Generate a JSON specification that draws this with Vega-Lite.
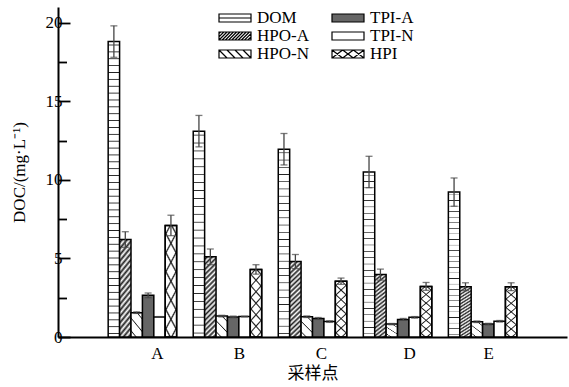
{
  "$schema": "https://vega.github.io/schema/vega-lite/v6.json",
  "width": 509,
  "height": 330,
  "autosize": {"type": "none"},
  "padding": {"left": 58, "top": 7, "right": 2, "bottom": 50},
  "background": "white",
  "config": {
    "view": {"stroke": null},
    "font": "Liberation Serif",
    "axis": {"labelColor": "#000", "titleColor": "#000", "domainColor": "#000", "tickColor": "#000", "grid": false, "labelFont": "Liberation Serif", "titleFont": "Liberation Serif, Noto Sans CJK SC", "labelFontSize": 17, "titleFontSize": 17, "titleFontWeight": "normal"},
    "legend": {"title": null, "orient": "none", "legendX": 168, "legendY": 2, "columns": 2, "symbolSize": 256, "symbolStrokeColor": "#000", "symbolStrokeWidth": 1.2, "symbolOpacity": 1, "labelFont": "Liberation Serif", "labelFontSize": 17, "labelColor": "#000", "labelOffset": 13, "rowPadding": 1, "columnPadding": 20, "padding": 0}
  },
  "data": {"values": [
    {"site": "A", "type": "DOM", "value": 18.8, "lo": 17.8, "hi": 19.8},
    {"site": "A", "type": "HPO-A", "value": 6.2, "lo": 5.7, "hi": 6.7},
    {"site": "A", "type": "HPO-N", "value": 1.55, "lo": 1.5, "hi": 1.6},
    {"site": "A", "type": "TPI-A", "value": 2.65, "lo": 2.5, "hi": 2.8},
    {"site": "A", "type": "TPI-N", "value": 1.28, "lo": 1.26, "hi": 1.3},
    {"site": "A", "type": "HPI", "value": 7.1, "lo": 6.45, "hi": 7.75},
    {"site": "B", "type": "DOM", "value": 13.1, "lo": 12.1, "hi": 14.1},
    {"site": "B", "type": "HPO-A", "value": 5.1, "lo": 4.6, "hi": 5.6},
    {"site": "B", "type": "HPO-N", "value": 1.33, "lo": 1.28, "hi": 1.38},
    {"site": "B", "type": "TPI-A", "value": 1.28, "lo": 1.23, "hi": 1.33},
    {"site": "B", "type": "TPI-N", "value": 1.3, "lo": 1.28, "hi": 1.32},
    {"site": "B", "type": "HPI", "value": 4.3, "lo": 4.0, "hi": 4.6},
    {"site": "C", "type": "DOM", "value": 11.95, "lo": 10.95, "hi": 12.95},
    {"site": "C", "type": "HPO-A", "value": 4.8, "lo": 4.35, "hi": 5.25},
    {"site": "C", "type": "HPO-N", "value": 1.29, "lo": 1.24, "hi": 1.34},
    {"site": "C", "type": "TPI-A", "value": 1.18, "lo": 1.12, "hi": 1.24},
    {"site": "C", "type": "TPI-N", "value": 0.98, "lo": 0.93, "hi": 1.03},
    {"site": "C", "type": "HPI", "value": 3.55, "lo": 3.35, "hi": 3.75},
    {"site": "D", "type": "DOM", "value": 10.5, "lo": 9.5, "hi": 11.5},
    {"site": "D", "type": "HPO-A", "value": 3.97, "lo": 3.62, "hi": 4.32},
    {"site": "D", "type": "HPO-N", "value": 0.82, "lo": 0.78, "hi": 0.86},
    {"site": "D", "type": "TPI-A", "value": 1.12, "lo": 1.06, "hi": 1.18},
    {"site": "D", "type": "TPI-N", "value": 1.25, "lo": 1.2, "hi": 1.3},
    {"site": "D", "type": "HPI", "value": 3.22, "lo": 2.97, "hi": 3.47},
    {"site": "E", "type": "DOM", "value": 9.22, "lo": 8.32, "hi": 10.12},
    {"site": "E", "type": "HPO-A", "value": 3.2, "lo": 2.95, "hi": 3.45},
    {"site": "E", "type": "HPO-N", "value": 0.97, "lo": 0.92, "hi": 1.02},
    {"site": "E", "type": "TPI-A", "value": 0.82, "lo": 0.77, "hi": 0.87},
    {"site": "E", "type": "TPI-N", "value": 1.0, "lo": 0.95, "hi": 1.05},
    {"site": "E", "type": "HPI", "value": 3.2, "lo": 2.95, "hi": 3.45}
  ]},
  "encoding": {
    "x": {
      "field": "site", "type": "nominal",
      "scale": {"paddingInner": 0.195, "paddingOuter": 0.59},
      "axis": {
        "title": "采样点", "ticks": false, "labelAngle": 0, "labelPadding": 8, "titlePadding": 4,
        "domainWidth": 2,
        "labelOffset": {"condition": [
          {"test": "datum.value === 'A'", "value": 15},
          {"test": "datum.value === 'B'", "value": 12},
          {"test": "datum.value === 'C'", "value": 9},
          {"test": "datum.value === 'E'", "value": 6}
        ], "value": 12}
      }
    },
    "xOffset": {"field": "type", "type": "nominal", "scale": {"domain": ["DOM", "HPO-A", "HPO-N", "TPI-A", "TPI-N", "HPI"], "paddingInner": 0, "paddingOuter": 0}}
  },
  "layer": [
    {
      "mark": {"type": "bar", "stroke": "#000", "strokeWidth": 1.5},
      "encoding": {
        "y": {
          "field": "value", "type": "quantitative",
          "scale": {"domain": [0, 21], "nice": false},
          "axis": {
            "title": "DOC/(mg·L⁻¹)",
            "values": [0, 2.5, 5, 7.5, 10, 12.5, 15, 17.5, 20],
            "labelExpr": "datum.value % 5 === 0 ? datum.label : ''",
            "tickSize": {"condition": {"test": "datum.value % 5 === 0", "value": -12}, "value": -8.5},
            "tickWidth": 1.8, "domainWidth": 2, "labelPadding": 8, "titlePadding": 17
          }
        },
        "fill": {
          "field": "type", "type": "nominal",
          "scale": {"domain": ["DOM", "HPO-A", "HPO-N", "TPI-A", "TPI-N", "HPI"], "range": ["#ffffff", "#ffffff", "#ffffff", "#666666", "#ffffff", "#ffffff"]},
          "condition": [
            {"test": "datum.type==='DOM' && datum.site==='A'", "value": {"gradient": "linear", "x1": 0, "y1": 0, "x2": 0, "y2": 1, "stops": [
              {"offset": 0.0086, "color": "#fff"}, {"offset": 0.0116, "color": "#222"}, {"offset": 0.0146, "color": "#fff"},
              {"offset": 0.0319, "color": "#fff"}, {"offset": 0.0349, "color": "#222"}, {"offset": 0.0379, "color": "#fff"},
              {"offset": 0.0551, "color": "#fff"}, {"offset": 0.0581, "color": "#222"}, {"offset": 0.0611, "color": "#fff"},
              {"offset": 0.0784, "color": "#fff"}, {"offset": 0.0814, "color": "#222"}, {"offset": 0.0844, "color": "#fff"},
              {"offset": 0.1017, "color": "#fff"}, {"offset": 0.1047, "color": "#222"}, {"offset": 0.1077, "color": "#fff"},
              {"offset": 0.1249, "color": "#fff"}, {"offset": 0.1279, "color": "#222"}, {"offset": 0.1309, "color": "#fff"},
              {"offset": 0.1482, "color": "#fff"}, {"offset": 0.1512, "color": "#222"}, {"offset": 0.1542, "color": "#fff"},
              {"offset": 0.1714, "color": "#fff"}, {"offset": 0.1744, "color": "#222"}, {"offset": 0.1774, "color": "#fff"},
              {"offset": 0.1947, "color": "#fff"}, {"offset": 0.1977, "color": "#222"}, {"offset": 0.2007, "color": "#fff"},
              {"offset": 0.2179, "color": "#fff"}, {"offset": 0.2209, "color": "#222"}, {"offset": 0.2239, "color": "#fff"},
              {"offset": 0.2412, "color": "#fff"}, {"offset": 0.2442, "color": "#222"}, {"offset": 0.2472, "color": "#fff"},
              {"offset": 0.2644, "color": "#fff"}, {"offset": 0.2674, "color": "#222"}, {"offset": 0.2704, "color": "#fff"},
              {"offset": 0.2877, "color": "#fff"}, {"offset": 0.2907, "color": "#222"}, {"offset": 0.2937, "color": "#fff"},
              {"offset": 0.3110, "color": "#fff"}, {"offset": 0.3140, "color": "#222"}, {"offset": 0.3170, "color": "#fff"},
              {"offset": 0.3342, "color": "#fff"}, {"offset": 0.3372, "color": "#222"}, {"offset": 0.3402, "color": "#fff"},
              {"offset": 0.3575, "color": "#fff"}, {"offset": 0.3605, "color": "#222"}, {"offset": 0.3635, "color": "#fff"},
              {"offset": 0.3807, "color": "#fff"}, {"offset": 0.3837, "color": "#222"}, {"offset": 0.3867, "color": "#fff"},
              {"offset": 0.4040, "color": "#fff"}, {"offset": 0.4070, "color": "#222"}, {"offset": 0.4100, "color": "#fff"},
              {"offset": 0.4272, "color": "#fff"}, {"offset": 0.4302, "color": "#222"}, {"offset": 0.4332, "color": "#fff"},
              {"offset": 0.4505, "color": "#fff"}, {"offset": 0.4535, "color": "#222"}, {"offset": 0.4565, "color": "#fff"},
              {"offset": 0.4737, "color": "#fff"}, {"offset": 0.4767, "color": "#222"}, {"offset": 0.4797, "color": "#fff"},
              {"offset": 0.4970, "color": "#fff"}, {"offset": 0.5000, "color": "#222"}, {"offset": 0.5030, "color": "#fff"},
              {"offset": 0.5203, "color": "#fff"}, {"offset": 0.5233, "color": "#222"}, {"offset": 0.5263, "color": "#fff"},
              {"offset": 0.5435, "color": "#fff"}, {"offset": 0.5465, "color": "#222"}, {"offset": 0.5495, "color": "#fff"},
              {"offset": 0.5668, "color": "#fff"}, {"offset": 0.5698, "color": "#222"}, {"offset": 0.5728, "color": "#fff"},
              {"offset": 0.5900, "color": "#fff"}, {"offset": 0.5930, "color": "#222"}, {"offset": 0.5960, "color": "#fff"},
              {"offset": 0.6133, "color": "#fff"}, {"offset": 0.6163, "color": "#222"}, {"offset": 0.6193, "color": "#fff"},
              {"offset": 0.6365, "color": "#fff"}, {"offset": 0.6395, "color": "#222"}, {"offset": 0.6425, "color": "#fff"},
              {"offset": 0.6598, "color": "#fff"}, {"offset": 0.6628, "color": "#222"}, {"offset": 0.6658, "color": "#fff"},
              {"offset": 0.6830, "color": "#fff"}, {"offset": 0.6860, "color": "#222"}, {"offset": 0.6890, "color": "#fff"},
              {"offset": 0.7063, "color": "#fff"}, {"offset": 0.7093, "color": "#222"}, {"offset": 0.7123, "color": "#fff"},
              {"offset": 0.7296, "color": "#fff"}, {"offset": 0.7326, "color": "#222"}, {"offset": 0.7356, "color": "#fff"},
              {"offset": 0.7528, "color": "#fff"}, {"offset": 0.7558, "color": "#222"}, {"offset": 0.7588, "color": "#fff"},
              {"offset": 0.7761, "color": "#fff"}, {"offset": 0.7791, "color": "#222"}, {"offset": 0.7821, "color": "#fff"},
              {"offset": 0.7993, "color": "#fff"}, {"offset": 0.8023, "color": "#222"}, {"offset": 0.8053, "color": "#fff"},
              {"offset": 0.8226, "color": "#fff"}, {"offset": 0.8256, "color": "#222"}, {"offset": 0.8286, "color": "#fff"},
              {"offset": 0.8458, "color": "#fff"}, {"offset": 0.8488, "color": "#222"}, {"offset": 0.8518, "color": "#fff"},
              {"offset": 0.8691, "color": "#fff"}, {"offset": 0.8721, "color": "#222"}, {"offset": 0.8751, "color": "#fff"},
              {"offset": 0.8923, "color": "#fff"}, {"offset": 0.8953, "color": "#222"}, {"offset": 0.8983, "color": "#fff"},
              {"offset": 0.9156, "color": "#fff"}, {"offset": 0.9186, "color": "#222"}, {"offset": 0.9216, "color": "#fff"},
              {"offset": 0.9389, "color": "#fff"}, {"offset": 0.9419, "color": "#222"}, {"offset": 0.9449, "color": "#fff"},
              {"offset": 0.9621, "color": "#fff"}, {"offset": 0.9651, "color": "#222"}, {"offset": 0.9681, "color": "#fff"},
              {"offset": 0.9854, "color": "#fff"}, {"offset": 0.9884, "color": "#222"}, {"offset": 0.9914, "color": "#fff"}
            ]}},
            {"test": "datum.type==='DOM'", "value": {"gradient": "linear", "x1": 0, "y1": 0, "x2": 0, "y2": 1, "stops": [
              {"offset": 0.0152, "color": "#fff"}, {"offset": 0.0192, "color": "#222"}, {"offset": 0.0232, "color": "#fff"},
              {"offset": 0.0537, "color": "#fff"}, {"offset": 0.0577, "color": "#222"}, {"offset": 0.0617, "color": "#fff"},
              {"offset": 0.0922, "color": "#fff"}, {"offset": 0.0962, "color": "#222"}, {"offset": 0.1002, "color": "#fff"},
              {"offset": 0.1306, "color": "#fff"}, {"offset": 0.1346, "color": "#222"}, {"offset": 0.1386, "color": "#fff"},
              {"offset": 0.1691, "color": "#fff"}, {"offset": 0.1731, "color": "#222"}, {"offset": 0.1771, "color": "#fff"},
              {"offset": 0.2075, "color": "#fff"}, {"offset": 0.2115, "color": "#222"}, {"offset": 0.2155, "color": "#fff"},
              {"offset": 0.2460, "color": "#fff"}, {"offset": 0.2500, "color": "#222"}, {"offset": 0.2540, "color": "#fff"},
              {"offset": 0.2845, "color": "#fff"}, {"offset": 0.2885, "color": "#222"}, {"offset": 0.2925, "color": "#fff"},
              {"offset": 0.3229, "color": "#fff"}, {"offset": 0.3269, "color": "#222"}, {"offset": 0.3309, "color": "#fff"},
              {"offset": 0.3614, "color": "#fff"}, {"offset": 0.3654, "color": "#222"}, {"offset": 0.3694, "color": "#fff"},
              {"offset": 0.3998, "color": "#fff"}, {"offset": 0.4038, "color": "#222"}, {"offset": 0.4078, "color": "#fff"},
              {"offset": 0.4383, "color": "#fff"}, {"offset": 0.4423, "color": "#222"}, {"offset": 0.4463, "color": "#fff"},
              {"offset": 0.4768, "color": "#fff"}, {"offset": 0.4808, "color": "#222"}, {"offset": 0.4848, "color": "#fff"},
              {"offset": 0.5152, "color": "#fff"}, {"offset": 0.5192, "color": "#222"}, {"offset": 0.5232, "color": "#fff"},
              {"offset": 0.5537, "color": "#fff"}, {"offset": 0.5577, "color": "#222"}, {"offset": 0.5617, "color": "#fff"},
              {"offset": 0.5922, "color": "#fff"}, {"offset": 0.5962, "color": "#222"}, {"offset": 0.6002, "color": "#fff"},
              {"offset": 0.6306, "color": "#fff"}, {"offset": 0.6346, "color": "#222"}, {"offset": 0.6386, "color": "#fff"},
              {"offset": 0.6691, "color": "#fff"}, {"offset": 0.6731, "color": "#222"}, {"offset": 0.6771, "color": "#fff"},
              {"offset": 0.7075, "color": "#fff"}, {"offset": 0.7115, "color": "#222"}, {"offset": 0.7155, "color": "#fff"},
              {"offset": 0.7460, "color": "#fff"}, {"offset": 0.7500, "color": "#222"}, {"offset": 0.7540, "color": "#fff"},
              {"offset": 0.7845, "color": "#fff"}, {"offset": 0.7885, "color": "#222"}, {"offset": 0.7925, "color": "#fff"},
              {"offset": 0.8229, "color": "#fff"}, {"offset": 0.8269, "color": "#222"}, {"offset": 0.8309, "color": "#fff"},
              {"offset": 0.8614, "color": "#fff"}, {"offset": 0.8654, "color": "#222"}, {"offset": 0.8694, "color": "#fff"},
              {"offset": 0.8998, "color": "#fff"}, {"offset": 0.9038, "color": "#222"}, {"offset": 0.9078, "color": "#fff"},
              {"offset": 0.9383, "color": "#fff"}, {"offset": 0.9423, "color": "#222"}, {"offset": 0.9463, "color": "#fff"},
              {"offset": 0.9768, "color": "#fff"}, {"offset": 0.9808, "color": "#222"}, {"offset": 0.9848, "color": "#fff"}
            ]}},
            {"test": "datum.type==='HPO-A'", "value": {"gradient": "linear", "x1": 0, "y1": 0, "x2": 0.16, "y2": 1.12, "stops": [
              {"offset": 0, "color": "#fff"}, {"offset": 0.0278, "color": "#222"}, {"offset": 0.0556, "color": "#fff"}, {"offset": 0.0833, "color": "#222"},
              {"offset": 0.1111, "color": "#fff"}, {"offset": 0.1389, "color": "#222"}, {"offset": 0.1667, "color": "#fff"}, {"offset": 0.1944, "color": "#222"},
              {"offset": 0.2222, "color": "#fff"}, {"offset": 0.25, "color": "#222"}, {"offset": 0.2778, "color": "#fff"}, {"offset": 0.3056, "color": "#222"},
              {"offset": 0.3333, "color": "#fff"}, {"offset": 0.3611, "color": "#222"}, {"offset": 0.3889, "color": "#fff"}, {"offset": 0.4167, "color": "#222"},
              {"offset": 0.4444, "color": "#fff"}, {"offset": 0.4722, "color": "#222"}, {"offset": 0.5, "color": "#fff"}, {"offset": 0.5278, "color": "#222"},
              {"offset": 0.5556, "color": "#fff"}, {"offset": 0.5833, "color": "#222"}, {"offset": 0.6111, "color": "#fff"}, {"offset": 0.6389, "color": "#222"},
              {"offset": 0.6667, "color": "#fff"}, {"offset": 0.6944, "color": "#222"}, {"offset": 0.7222, "color": "#fff"}, {"offset": 0.75, "color": "#222"},
              {"offset": 0.7778, "color": "#fff"}, {"offset": 0.8056, "color": "#222"}, {"offset": 0.8333, "color": "#fff"}, {"offset": 0.8611, "color": "#222"},
              {"offset": 0.8889, "color": "#fff"}, {"offset": 0.9167, "color": "#222"}, {"offset": 0.9444, "color": "#fff"}, {"offset": 0.9722, "color": "#222"},
              {"offset": 1, "color": "#fff"}
            ]}},
            {"test": "datum.type==='HPO-N'", "value": {"gradient": "linear", "x1": 0, "y1": 1, "x2": 0.67, "y2": -0.18, "stops": [
              {"offset": 0.13, "color": "#fff"}, {"offset": 0.167, "color": "#222"}, {"offset": 0.2, "color": "#fff"},
              {"offset": 0.465, "color": "#fff"}, {"offset": 0.5, "color": "#222"}, {"offset": 0.535, "color": "#fff"},
              {"offset": 0.8, "color": "#fff"}, {"offset": 0.833, "color": "#222"}, {"offset": 0.866, "color": "#fff"}
            ]}},
            {"test": "datum.type==='HPI'", "value": {"gradient": "linear", "x1": 0, "y1": 0, "x2": 0.22, "y2": 1.15, "stops": [
              {"offset": 0.0514, "color": "#fff"}, {"offset": 0.0714, "color": "#222"}, {"offset": 0.0914, "color": "#fff"},
              {"offset": 0.1943, "color": "#fff"}, {"offset": 0.2143, "color": "#222"}, {"offset": 0.2343, "color": "#fff"},
              {"offset": 0.3371, "color": "#fff"}, {"offset": 0.3571, "color": "#222"}, {"offset": 0.3771, "color": "#fff"},
              {"offset": 0.48, "color": "#fff"}, {"offset": 0.5, "color": "#222"}, {"offset": 0.52, "color": "#fff"},
              {"offset": 0.6229, "color": "#fff"}, {"offset": 0.6429, "color": "#222"}, {"offset": 0.6629, "color": "#fff"},
              {"offset": 0.7657, "color": "#fff"}, {"offset": 0.7857, "color": "#222"}, {"offset": 0.8057, "color": "#fff"},
              {"offset": 0.9086, "color": "#fff"}, {"offset": 0.9286, "color": "#222"}, {"offset": 0.9486, "color": "#fff"}
            ]}}
          ]
        }
      }
    },
    {
      "transform": [{"filter": "datum.type === 'HPI'"}],
      "mark": {"type": "bar", "stroke": "#000", "strokeWidth": 1.5, "fill": {"gradient": "linear", "x1": 0, "y1": 1, "x2": 0.22, "y2": -0.15, "stops": [
        {"offset": 0.0514, "color": "rgba(0,0,0,0)"}, {"offset": 0.0714, "color": "#222"}, {"offset": 0.0914, "color": "rgba(0,0,0,0)"},
        {"offset": 0.1943, "color": "rgba(0,0,0,0)"}, {"offset": 0.2143, "color": "#222"}, {"offset": 0.2343, "color": "rgba(0,0,0,0)"},
        {"offset": 0.3371, "color": "rgba(0,0,0,0)"}, {"offset": 0.3571, "color": "#222"}, {"offset": 0.3771, "color": "rgba(0,0,0,0)"},
        {"offset": 0.48, "color": "rgba(0,0,0,0)"}, {"offset": 0.5, "color": "#222"}, {"offset": 0.52, "color": "rgba(0,0,0,0)"},
        {"offset": 0.6229, "color": "rgba(0,0,0,0)"}, {"offset": 0.6429, "color": "#222"}, {"offset": 0.6629, "color": "rgba(0,0,0,0)"},
        {"offset": 0.7657, "color": "rgba(0,0,0,0)"}, {"offset": 0.7857, "color": "#222"}, {"offset": 0.8057, "color": "rgba(0,0,0,0)"},
        {"offset": 0.9086, "color": "rgba(0,0,0,0)"}, {"offset": 0.9286, "color": "#222"}, {"offset": 0.9486, "color": "rgba(0,0,0,0)"}
      ]}},
      "encoding": {
        "y": {"field": "value", "type": "quantitative", "title": "DOC/(mg·L⁻¹)"}
      }
    },
    {
      "mark": {"type": "point", "filled": true, "opacity": 0, "strokeWidth": 1.2},
      "encoding": {
        "y": {"field": "value", "type": "quantitative", "title": "DOC/(mg·L⁻¹)"},
        "fill": {"field": "type", "type": "nominal"},
        "stroke": {"field": "type", "type": "nominal", "scale": {"domain": ["DOM", "HPO-A", "HPO-N", "TPI-A", "TPI-N", "HPI"], "range": ["#000000", "#000000", "#000000", "#000000", "#000000", "#000000"]}},
        "shape": {
          "field": "type", "type": "nominal",
          "scale": {"domain": ["DOM", "HPO-A", "HPO-N", "TPI-A", "TPI-N", "HPI"], "range": [
            "M-2,-0.5H2V0.5H-2ZM-2,0H2",
            "M-2,-0.5H2V0.5H-2ZM-2,-0.3L-1.8,-0.5M-2,0.1L-1.4,-0.5M-2,0.5L-1,-0.5M-1.6,0.5L-0.6,-0.5M-1.2,0.5L-0.2,-0.5M-0.8,0.5L0.2,-0.5M-0.4,0.5L0.6,-0.5M0,0.5L1,-0.5M0.4,0.5L1.4,-0.5M0.8,0.5L1.8,-0.5M1.2,0.5L2,-0.3M1.6,0.5L2,0.1",
            "M-2,-0.5H2V0.5H-2ZM-2,-0.5L-1,0.5M-1,-0.5L0,0.5M0,-0.5L1,0.5M1,-0.5L2,0.5",
            "M-2,-0.5H2V0.5H-2Z",
            "M-2,-0.5H2V0.5H-2Z",
            "M-2,-0.5H2V0.5H-2ZM-2,-0.5L-0.67,0.5M-2,0.5L-0.67,-0.5M-0.67,-0.5L0.67,0.5M-0.67,0.5L0.67,-0.5M0.67,-0.5L2,0.5M0.67,0.5L2,-0.5"
          ]}
        }
      }
    },
    {
      "mark": {"type": "rule", "color": "#444", "strokeWidth": 1.3},
      "encoding": {
        "y": {"field": "lo", "type": "quantitative", "title": "DOC/(mg·L⁻¹)"},
        "y2": {"field": "hi"}
      }
    },
    {
      "mark": {"type": "tick", "color": "#444", "size": 7, "thickness": 1.3},
      "encoding": {"y": {"field": "hi", "type": "quantitative", "title": "DOC/(mg·L⁻¹)"}}
    },
    {
      "mark": {"type": "tick", "color": "#444", "size": 7, "thickness": 1.3},
      "encoding": {"y": {"field": "lo", "type": "quantitative", "title": "DOC/(mg·L⁻¹)"}}
    }
  ]
}
